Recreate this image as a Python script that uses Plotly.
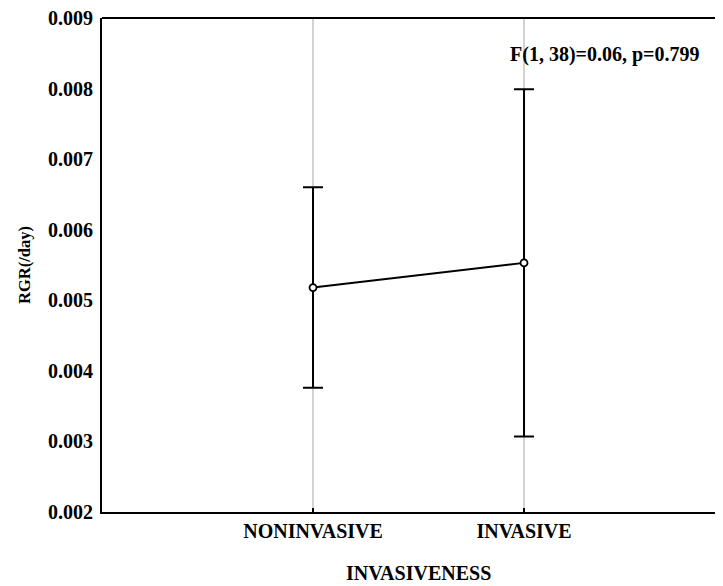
import plotly.graph_objects as go

categories = ["NONINVASIVE", "INVASIVE"]
means = [0.00518, 0.00553]
errors = [0.00142, 0.00246]
y_ticks = [0.002, 0.003, 0.004, 0.005, 0.006, 0.007, 0.008, 0.009]
y_tick_labels = ["0.002", "0.003", "0.004", "0.005", "0.006", "0.007", "0.008", "0.009"]
stat_text = "F(1, 38)=0.06, p=0.799"

xpos = list(range(len(categories)))
FONT = "Liberation Serif"

fig = go.Figure()
fig.add_trace(go.Scatter(
    x=xpos, y=means, mode="lines+markers",
    line=dict(color="black", width=2),
    marker=dict(symbol="circle", size=7, color="white", line=dict(color="black", width=1.8)),
    error_y=dict(type="data", array=errors, visible=True, color="black", thickness=2, width=10),
    showlegend=False,
))

fig.update_layout(
    width=715, height=578,
    margin=dict(l=94, r=0, t=10, b=74),
    paper_bgcolor="white", plot_bgcolor="white",
    font=dict(family=FONT, color="black"),
    xaxis=dict(
        range=[-1, 1.943], tickvals=xpos, ticktext=categories,
        showgrid=True, gridcolor="#d3d3d3", gridwidth=2,
        showline=True, linecolor="black", linewidth=2,
        ticks="inside", ticklen=4, tickwidth=2, tickcolor="black",
        tickfont=dict(family=FONT, size=20, color="black", weight="bold"),
        zeroline=False,
    ),
    yaxis=dict(
        range=[0.002, 0.009], tickvals=y_ticks, ticktext=y_tick_labels,
        showgrid=False, showline=True, linecolor="black", linewidth=2,
        ticks="", ticklabelstandoff=3, ticklabeloverflow="allow",
        tickfont=dict(family=FONT, size=20, color="black", weight="bold"),
        zeroline=False,
    ),
    shapes=[dict(type="line", xref="paper", yref="paper", x0=0, x1=1, y0=1, y1=1,
                 line=dict(color="black", width=2))],
    annotations=[
        dict(text="<b>INVASIVENESS</b>", xref="x", yref="paper", x=0.5, y=0,
             yshift=-61, xanchor="center", yanchor="middle", showarrow=False,
             font=dict(family=FONT, size=20, color="black")),
        dict(text="<b>RGR(/day)</b>", xref="paper", yref="paper", x=0, y=0.5,
             xshift=-78, xanchor="center", yanchor="middle", textangle=-90, showarrow=False,
             font=dict(family=FONT, size=16.5, color="black")),
        dict(text="<b>" + stat_text + "</b>", xref="paper", yref="paper",
             x=(604.5 - 102) / 621, y=(512 - 55) / 494, xanchor="center", yanchor="middle",
             showarrow=False, font=dict(family=FONT, size=20, color="black")),
    ],
)

fig.write_html("out.html")
